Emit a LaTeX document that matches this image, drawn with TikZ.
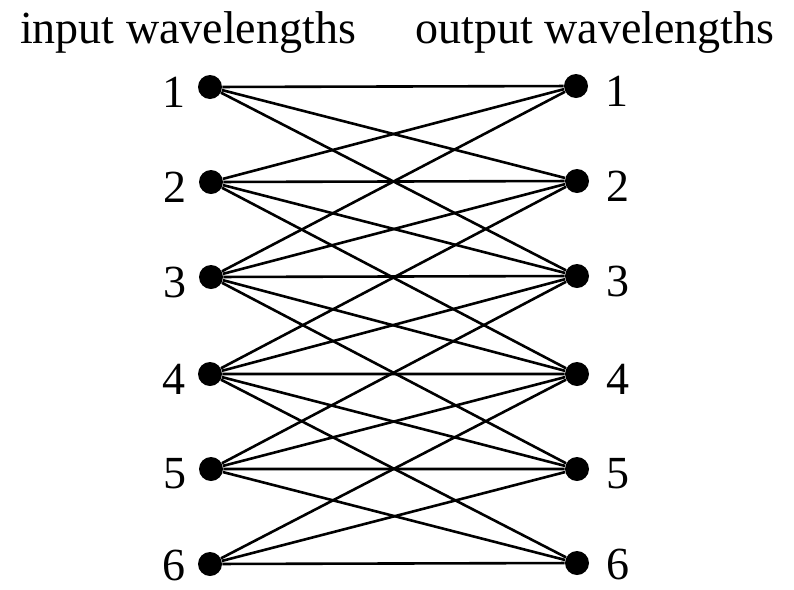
\documentclass[tikz,border=0pt]{standalone}
\usepackage{fontspec}
\setmainfont{Liberation Serif}
\usetikzlibrary{positioning}
\tikzset{
    blackdot/.style={
        circle,
        fill=black,
        inner sep=0pt,
        minimum size=12pt
    },
    % lines between wavelengths
    blackline/.style={
        line width=1.3pt,
        black
    },
    numlabel/.style={
        inner sep=0pt,
        font=\fontsize{23}{27}\selectfont
    }
}
\begin{document}
\begin{tikzpicture}[x=0.5pt,y=-0.5pt]
    \useasboundingbox (0,0) rectangle (794,590);

    \node[numlabel, anchor=base] (intitle) at (188,43) {input wavelengths};
    \node[numlabel, anchor=base] (outtitle) at (595,43) {output wavelengths};

    \node[blackdot] (l1) at (210,87) {};
    \node[blackdot] (l2) at (211,182) {};
    \node[blackdot] (l3) at (211,277) {};
    \node[blackdot] (l4) at (210,374) {};
    \node[blackdot] (l5) at (211,469) {};
    \node[blackdot] (l6) at (210,564) {};

    \node[blackdot] (r1) at (576,86) {};
    \node[blackdot] (r2) at (577,181) {};
    \node[blackdot] (r3) at (577,276) {};
    \node[blackdot] (r4) at (577,374) {};
    \node[blackdot] (r5) at (577,469) {};
    \node[blackdot] (r6) at (577,563) {};

    \node[numlabel, left=6pt of l1, yshift=-2.5pt] (a1) {1};
    \node[numlabel, left=6pt of l2, yshift=-2.5pt] (a2) {2};
    \node[numlabel, left=6pt of l3, yshift=-2.5pt] (a3) {3};
    \node[numlabel, left=6pt of l4, yshift=-2.5pt] (a4) {4};
    \node[numlabel, left=6pt of l5, yshift=-2.5pt] (a5) {5};
    \node[numlabel, left=6pt of l6, yshift=-0.5pt] (a6) {6};

    \node[numlabel, right=8.5pt of r1, yshift=-2.5pt] (b1) {1};
    \node[numlabel, right=8.5pt of r2, yshift=-2.5pt] (b2) {2};
    \node[numlabel, right=8.5pt of r3, yshift=-2.5pt] (b3) {3};
    \node[numlabel, right=8.5pt of r4, yshift=-2.5pt] (b4) {4};
    \node[numlabel, right=8.5pt of r5, yshift=-2.5pt] (b5) {5};
    \node[numlabel, right=8.5pt of r6, yshift=-0.5pt] (b6) {6};

    \draw[blackline] (l1) -- (r1) (l1) -- (r2) (l1) -- (r3);
    \draw[blackline] (l2) -- (r1) (l2) -- (r2) (l2) -- (r3) (l2) -- (r4);
    \draw[blackline] (l3) -- (r1) (l3) -- (r2) (l3) -- (r3) (l3) -- (r4) (l3) -- (r5);
    \draw[blackline] (l4) -- (r2) (l4) -- (r3) (l4) -- (r4) (l4) -- (r5) (l4) -- (r6);
    \draw[blackline] (l5) -- (r3) (l5) -- (r4) (l5) -- (r5) (l5) -- (r6);
    \draw[blackline] (l6) -- (r4) (l6) -- (r5) (l6) -- (r6);
\end{tikzpicture}
\end{document}
